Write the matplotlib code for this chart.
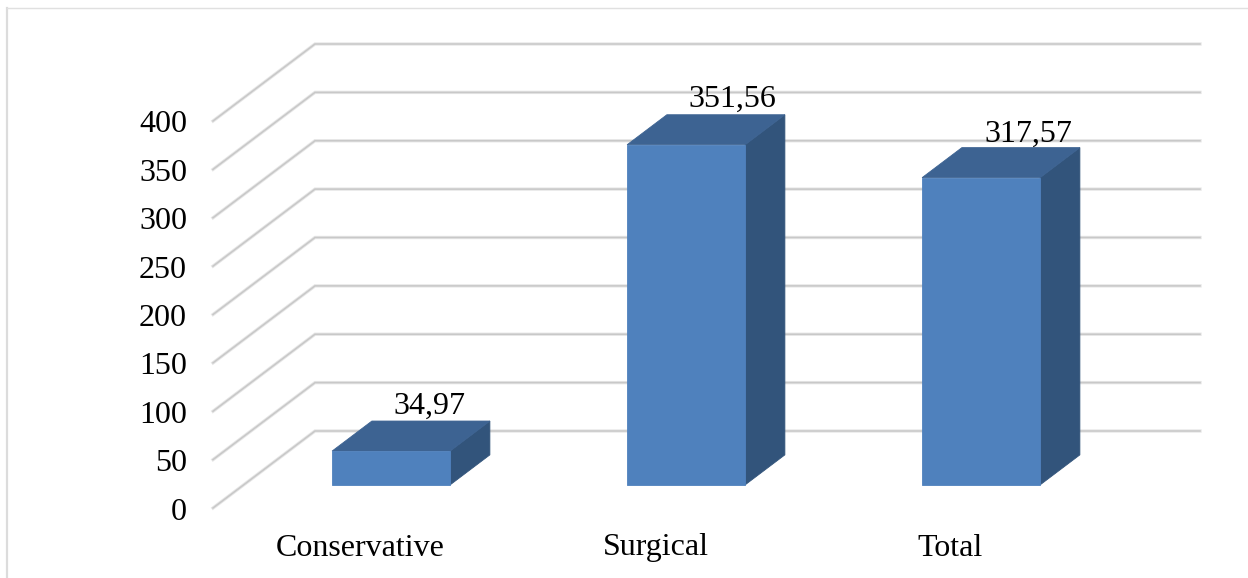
import matplotlib
matplotlib.use("Agg")
import matplotlib.pyplot as plt
from matplotlib.patches import Polygon

categories = ["Conservative", "Surgical", "Total"]
values = [34.97, 351.56, 317.57]
value_labels = ["34,97", "351,56", "317,57"]
y_ticks = [0, 50, 100, 150, 200, 250, 300, 350, 400]

W, H = 1248, 578
# front plane of the fake 3D box, in pixels
X0, X1 = 213, 1098
Y0, Y1 = 508, 121
# how far the back wall is shifted
SHIFT_X, SHIFT_Y = 102, 77

GRID_DARK = "#c8c8c8"
GRID_LIGHT = "#e6e6e6"
BAR_FRONT = "#4f81bd"
BAR_TOP = "#3d6392"
BAR_SIDE = "#32547b"
FONT_SIZE = 23

# manual label placement, pixels from the back edge of each bar top
LABEL_DX = [-1, 6, 7]
LABEL_DY = [15, 15, 13]

plt.rcParams["font.family"] = ["Liberation Serif", "DejaVu Serif"]

fig = plt.figure(figsize=(W / 100, H / 100), dpi=100)
ax = fig.add_axes([X0 / W, 1 - Y0 / H, (X1 - X0) / W, (Y0 - Y1) / H])
ax.set_xlim(0, 3)
ax.set_ylim(0, 400)
ax.axis("off")

dx = SHIFT_X / ((X1 - X0) / 3)
dy = SHIFT_Y / ((Y0 - Y1) / 400)


def proj(x, v, depth):
    # oblique projection: depth 0 is the front plane, 1 the back wall
    return (x + depth * dx, v + depth * dy)


# gridlines run along the side wall and then across the back wall
for tick in y_ticks:
    pts = [proj(0, tick, 0), proj(0, tick, 1), proj(3, tick, 1)]
    xs, ys = zip(*pts)
    ax.plot(xs, ys, color=GRID_LIGHT, lw=2.4, clip_on=False, zorder=1,
            solid_joinstyle="miter")
    ax.plot(xs, ys, color=GRID_DARK, lw=1.1, clip_on=False, zorder=1.1,
            solid_joinstyle="miter")
    ax.annotate(str(tick), xy=(0, tick), xytext=(-26, -4), textcoords="offset pixels",
                ha="right", va="center", fontsize=FONT_SIZE, color="black",
                annotation_clip=False)

bar_w = 0.4
d_front, d_back = 0.3, 0.69
for i, (val, lab) in enumerate(zip(values, value_labels)):
    cx = i + 0.5
    l, r = cx - bar_w / 2, cx + bar_w / 2
    front = [proj(l, 0, d_front), proj(r, 0, d_front), proj(r, val, d_front), proj(l, val, d_front)]
    top = [proj(l, val, d_front), proj(r, val, d_front), proj(r, val, d_back), proj(l, val, d_back)]
    side = [proj(r, 0, d_front), proj(r, 0, d_back), proj(r, val, d_back), proj(r, val, d_front)]
    for poly, col in [(side, BAR_SIDE), (top, BAR_TOP), (front, BAR_FRONT)]:
        ax.add_patch(Polygon(poly, closed=True, facecolor=col, edgecolor=col,
                             lw=0.6, clip_on=False, zorder=3))
    # value label sits above the back edge of the bar top
    lx, ly = proj(cx, val, d_back)
    ax.annotate(lab, xy=(lx, ly), xytext=(LABEL_DX[i], LABEL_DY[i]), textcoords="offset pixels",
                ha="center", va="center", fontsize=FONT_SIZE, color="black",
                annotation_clip=False, zorder=4)

for i, name in enumerate(categories):
    ax.annotate(name, xy=(i + 0.5, 0), xytext=(0, -40), textcoords="offset pixels",
                ha="center", va="center", fontsize=FONT_SIZE, color="black",
                annotation_clip=False)

# chart frame, only the top and left edges fall inside the image
fig.add_artist(plt.Line2D([6.5 / W, 6.5 / W], [0, 1 - 7.5 / H], color="#dcdcdc", lw=1.6))
fig.add_artist(plt.Line2D([6.5 / W, 1], [1 - 7.5 / H, 1 - 7.5 / H], color="#e0e0e0", lw=1.0))

fig.savefig("out.png", dpi=100)
